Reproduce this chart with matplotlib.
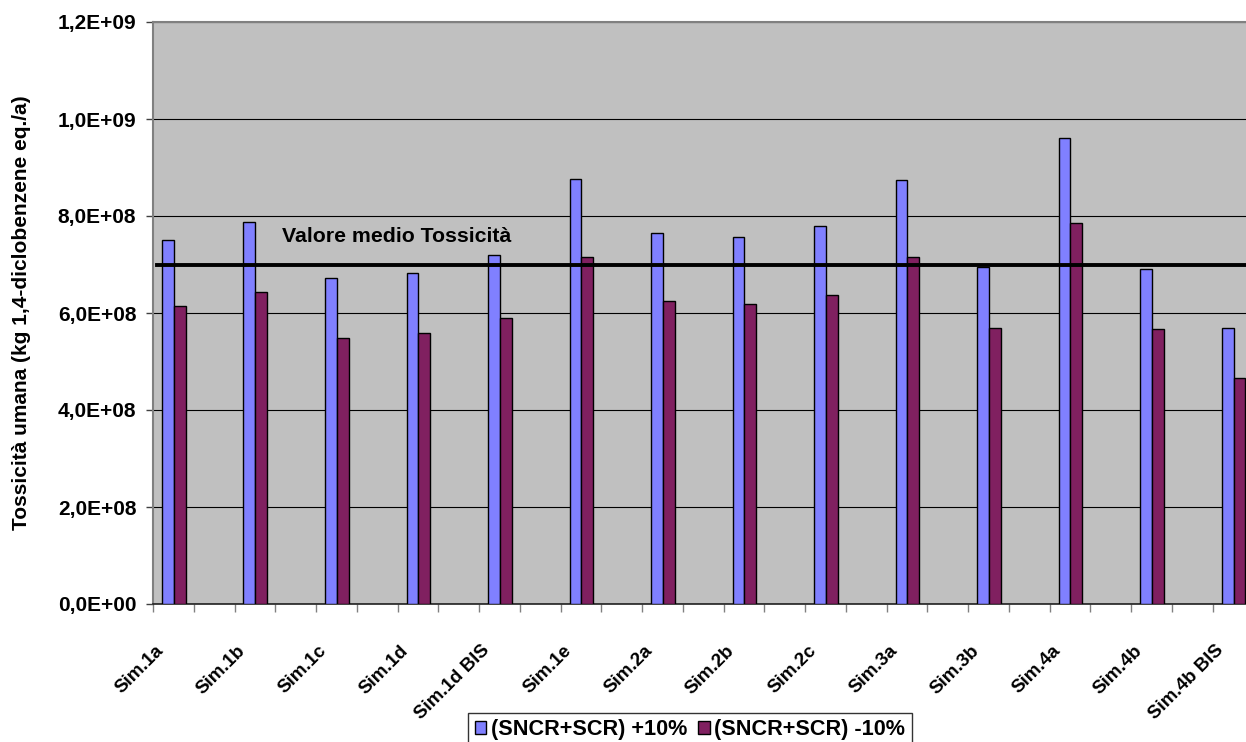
import matplotlib
matplotlib.use("Agg")
import matplotlib.pyplot as plt
from matplotlib.ticker import FixedLocator, FuncFormatter
from matplotlib.transforms import ScaledTranslation
import numpy as np

plt.rcParams['font.family'] = ['Liberation Sans', 'DejaVu Sans']
plt.rcParams['font.weight'] = 'bold'

# Scenarios
categories = ["Sim.1a", "Sim.1b", "Sim.1c", "Sim.1d", "Sim.1d BIS", "Sim.1e",
              "Sim.2a", "Sim.2b", "Sim.2c", "Sim.3a", "Sim.3b", "Sim.4a",
              "Sim.4b", "Sim.4b BIS"]

# Human toxicity (kg 1,4-dichlorobenzene eq./a)
plus10 = [7.51e8, 7.88e8, 6.72e8, 6.83e8, 7.20e8, 8.76e8, 7.64e8,
          7.56e8, 7.80e8, 8.74e8, 6.95e8, 9.61e8, 6.91e8, 5.70e8]
minus10 = [6.14e8, 6.44e8, 5.49e8, 5.59e8, 5.90e8, 7.15e8, 6.25e8,
           6.19e8, 6.38e8, 7.15e8, 5.70e8, 7.86e8, 5.66e8, 4.65e8]

series_labels = ["(SNCR+SCR) +10%", "(SNCR+SCR) -10%"]
mean_value = 7.0e8
mean_label = "Valore medio Tossicità"
y_label = "Tossicità umana (kg 1,4-diclobenzene eq./a)"
y_ticks = [0, 2e8, 4e8, 6e8, 8e8, 1.0e9, 1.2e9]

FS = 15        # horizontal / vertical text
FS_X = 13.5    # slanted category labels

W, H = 1246, 742
fig = plt.figure(figsize=(W / 100, H / 100), dpi=100)
fig.patch.set_facecolor("white")

# plot area in pixels: left 153, right 1253.5 (runs past the edge), top 22, bottom 604
left, right, top, bottom = 153, 1253.5, 22, 604
ax = fig.add_axes([left / W, (H - bottom) / H, (right - left) / W, (bottom - top) / H])
ax.set_facecolor("#C0C0C0")

# every scenario sits on an even slot, with an empty slot in between
n_slots = 2 * len(categories) - 1
pos = np.arange(len(categories)) * 2
bw = 0.29
b1 = ax.bar(pos - bw / 2 + 0.01, plus10, width=bw, color="#8080FF",
            edgecolor="black", linewidth=1.0, zorder=3, label=series_labels[0])
b2 = ax.bar(pos + bw / 2 + 0.01, minus10, width=bw, color="#802060",
            edgecolor="black", linewidth=1.0, zorder=3, label=series_labels[1])

ax.set_xlim(-0.5, n_slots - 0.5)
ax.set_ylim(0, 1.2e9)

# reference line for the mean value
ax.axhline(mean_value, xmin=4 / (right - left), xmax=1, color="black",
           linewidth=2.8, zorder=4)
ax.text(2.666, 7.57e8, mean_label, fontsize=FS + 0.3, fontweight="bold",
        ha="left", va="center", zorder=5)

# y axis
ax.set_yticks(y_ticks)
ax.yaxis.set_major_formatter(FuncFormatter(lambda v, p: f"{v:.1E}".replace(".", ",")))
ax.tick_params(axis="y", length=5, width=1, color="#404040", pad=7, labelsize=FS)
for lab in ax.get_yticklabels():
    lab.set_fontweight("bold")
ax.grid(axis="y", color="black", linewidth=0.8, zorder=1)
ax.set_axisbelow(True)

# x axis: tick marks on slot boundaries, labels drawn separately
ax.xaxis.set_major_locator(FixedLocator(np.arange(-0.5, n_slots + 0.5, 1.0)))
ax.set_xticklabels([])
ax.tick_params(axis="x", length=5.5, width=1, color="#808080")
off = ScaledTranslation(-12 / 100, -44 / 100, fig.dpi_scale_trans)
for p, name in zip(pos, categories):
    ax.text(p, 0, name, transform=ax.get_xaxis_transform() + off,
            rotation=45, rotation_mode="anchor", ha="right", va="center",
            fontsize=FS_X, fontweight="bold", clip_on=False)

for side in ["left", "top"]:
    ax.spines[side].set_color("#808080")
    ax.spines[side].set_linewidth(1.5)
ax.spines["bottom"].set_color("#202020")
ax.spines["bottom"].set_linewidth(1.2)
ax.spines["right"].set_visible(False)

fig.text(22 / W, 1 - 313 / H, y_label, rotation=90, ha="center", va="center",
         fontsize=FS, fontweight="bold")

leg = fig.legend(handles=[b1, b2], labels=series_labels, loc="upper left",
                 bbox_to_anchor=(468 / W, (H - 712.5) / H), ncol=2,
                 frameon=True, fancybox=False, edgecolor="black",
                 prop={"size": 15.6, "weight": "bold"}, handlelength=0.55,
                 handleheight=0.55, handletextpad=0.2, columnspacing=0.5,
                 borderpad=0.3, borderaxespad=0)
leg.get_frame().set_linewidth(1.0)

fig.savefig("out.png", dpi=100)
